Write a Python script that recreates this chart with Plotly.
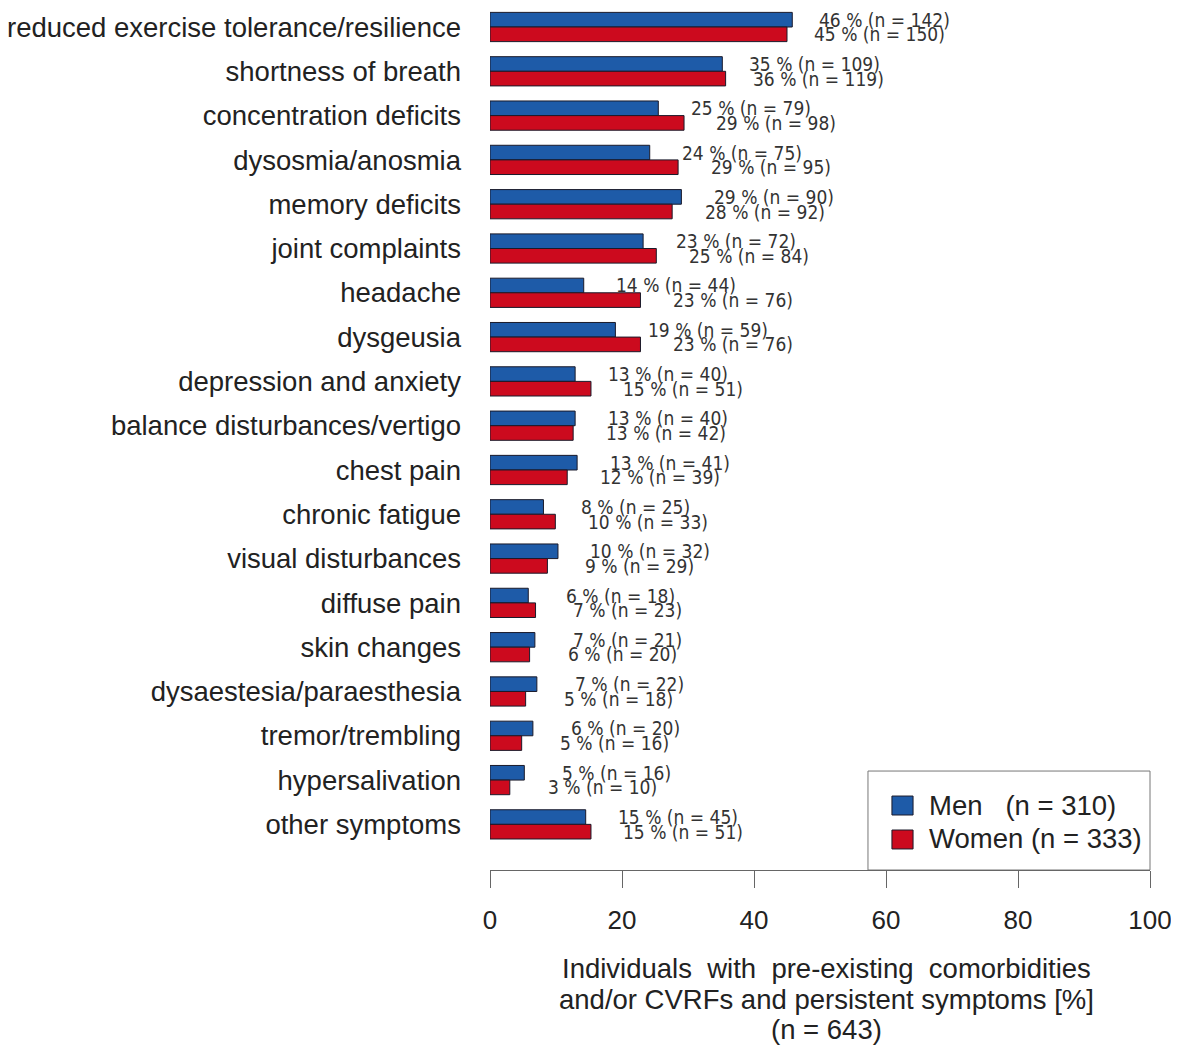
import plotly.graph_objects as go

categories = [
    "reduced exercise tolerance/resilience", "shortness of breath", "concentration deficits",
    "dysosmia/anosmia", "memory deficits", "joint complaints", "headache", "dysgeusia",
    "depression and anxiety", "balance disturbances/vertigo", "chest pain", "chronic fatigue",
    "visual disturbances", "diffuse pain", "skin changes", "dysaestesia/paraesthesia",
    "tremor/trembling", "hypersalivation", "other symptoms",
]
men_values = [45.8, 35.2, 25.5, 24.2, 29.0, 23.2, 14.2, 19.0, 12.9, 12.9, 13.2, 8.1, 10.3, 5.8, 6.8, 7.1, 6.5, 5.2, 14.5]
women_values = [45.0, 35.7, 29.4, 28.5, 27.6, 25.2, 22.8, 22.8, 15.3, 12.6, 11.7, 9.9, 8.7, 6.9, 6.0, 5.4, 4.8, 3.0, 15.3]
men_pct = [46, 35, 25, 24, 29, 23, 14, 19, 13, 13, 13, 8, 10, 6, 7, 7, 6, 5, 15]
men_n = [142, 109, 79, 75, 90, 72, 44, 59, 40, 40, 41, 25, 32, 18, 21, 22, 20, 16, 45]
women_pct = [45, 36, 29, 29, 28, 25, 23, 23, 15, 13, 12, 10, 9, 7, 6, 5, 5, 3, 15]
women_n = [150, 119, 98, 95, 92, 84, 76, 76, 51, 42, 39, 33, 29, 23, 20, 18, 16, 10, 51]
x_ticks = [0, 20, 40, 60, 80, 100]
legend_labels = ["Men\u00a0\u00a0\u00a0(n = 310)", "Women (n = 333)"]
title_lines = [
    "Individuals\u00a0\u00a0with\u00a0\u00a0pre-existing\u00a0\u00a0comorbidities",
    "and/or CVRFs and persistent symptoms [%]",
    "(n = 643)",
]

BLUE = "#1E5BA8"
RED = "#CC0A1E"
EDGE = "#1a1a2a"
TXT = "#222222"
FONT = "Liberation Sans, Arial, sans-serif"
NARROW = "Liberation Sans Narrow, DejaVu Sans Condensed, Arial Narrow, sans-serif"

idx = list(range(len(categories)))

fig = go.Figure()
fig.add_trace(go.Bar(y=idx, x=men_values, orientation="h", name="Men",
                     marker=dict(color=BLUE, line=dict(color=EDGE, width=1))))
fig.add_trace(go.Bar(y=idx, x=women_values, orientation="h", name="Women",
                     marker=dict(color=RED, line=dict(color=EDGE, width=1))))

annotations = []
half = 0.165
for i in idx:
    annotations.append(dict(x=men_values[i] + 14, y=i - half, xref="x", yref="y",
                            text=f"{men_pct[i]} % (n = {men_n[i]})", showarrow=False,
                            xanchor="center", yanchor="middle",
                            font=dict(family=NARROW, size=19, color="#333333")))
    annotations.append(dict(x=women_values[i] + 14, y=i + half, xref="x", yref="y",
                            text=f"{women_pct[i]} % (n = {women_n[i]})", showarrow=False,
                            xanchor="center", yanchor="middle",
                            font=dict(family=NARROW, size=19, color="#333333")))

# axis title lines
for txt, yy in zip(title_lines, [-0.1137, -0.1497, -0.1856]):
    annotations.append(dict(x=0.5106, y=yy, xref="paper", yref="paper", text=txt,
                            showarrow=False, xanchor="center", yanchor="middle",
                            font=dict(family=FONT, size=27.5, color=TXT)))

# legend (manual)
shapes = [
    dict(type="rect", xref="paper", yref="paper", x0=0.5727, x1=1.0, y0=0.0, y1=0.1148,
         line=dict(color="#777777", width=1), fillcolor="white", layer="below"),
    dict(type="rect", xref="paper", yref="paper", x0=0.609, x1=0.641, y0=0.0638, y1=0.0858,
         line=dict(color=EDGE, width=1), fillcolor=BLUE),
    dict(type="rect", xref="paper", yref="paper", x0=0.609, x1=0.641, y0=0.0244, y1=0.0464,
         line=dict(color=EDGE, width=1), fillcolor=RED),
]
for txt, yy in zip(legend_labels, [0.0754, 0.0371]):
    annotations.append(dict(x=0.662, y=yy, xref="paper", yref="paper", text=txt,
                            showarrow=False, xanchor="left", yanchor="middle",
                            font=dict(family=FONT, size=27.5, color=TXT)))

fig.update_layout(
    width=1171, height=1038,
    margin=dict(l=482, r=29, t=0, b=176),
    paper_bgcolor="white", plot_bgcolor="white",
    barmode="group", bargap=0.34, bargroupgap=0,
    showlegend=False,
    annotations=annotations, shapes=shapes,
    font=dict(family=FONT, color=TXT),
)
fig.update_xaxes(range=[0, 100], tickvals=x_ticks, showgrid=False, zeroline=False,
                 showline=True, linecolor="#666666", linewidth=1,
                 ticks="outside", ticklen=17, tickcolor="#666666", tickwidth=1,
                 tickfont=dict(family=FONT, size=26, color=TXT), ticklabelstandoff=10)
fig.update_yaxes(range=[19.03, -0.429], tickvals=idx, ticktext=categories, showgrid=False,
                 zeroline=False, showline=False, ticks="",
                 tickfont=dict(family=FONT, size=27.5, color=TXT), ticklabelstandoff=28)

fig.write_html("out.html")
